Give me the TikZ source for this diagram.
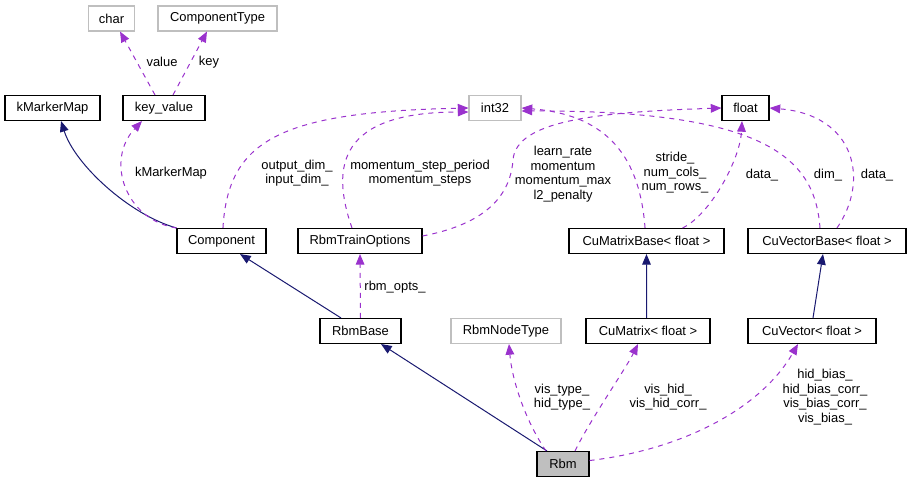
\documentclass[tikz,border=0pt]{standalone}
\usepackage{fontspec}
\setmainfont{Liberation Sans}
\usetikzlibrary{arrows.meta}
\definecolor{inhblue}{HTML}{191970}
\definecolor{usepurple}{HTML}{9A32CD}
\definecolor{extgray}{HTML}{BFBFBF}

\begin{document}
\begin{tikzpicture}[x=0.75pt, y=-0.75pt,
    every node/.style={font=\fontsize{9.7}{10.9}\selectfont, inner sep=0pt},
    cls/.style={draw=black, line width=0.8pt, minimum height=18.75pt},
    ext/.style={cls, draw=extgray},
    cur/.style={cls, fill=extgray},
    lbl/.style={align=center},
    inh/.style={draw=inhblue, line width=0.75pt, -{Triangle[length=8pt,width=6.5pt]}},
    use/.style={draw=usepurple, line width=0.75pt, dash pattern=on 3.75pt off 3.75pt, -{Triangle[length=8pt,width=6.5pt]}}]
    \useasboundingbox (0,0) rectangle (911,483);

    % Top row
    \node[ext, minimum width=34.5pt] (char) at (111.5,18.5) {char};
    \node[ext, minimum width=89.25pt] (ComponentType) at (217.5,18.5) {ComponentType};
    \node[cls, minimum width=71.25pt] (kMarkerMap) at (52.5,108) {kMarkerMap};
    \node[cls, minimum width=61.5pt] (keyValue) at (164,108) {key\_value};
    \node[ext, minimum width=39pt] (int32) at (495,108) {int32};
    \node[cls, minimum width=35.25pt] (float) at (745.5,108) {float};

    % Middle row
    \node[cls, minimum width=66.75pt] (Component) at (221.5,241) {Component};
    \node[cls, minimum width=93pt] (RbmTrainOptions) at (360,241) {RbmTrainOptions};
    \node[cls, minimum width=116.25pt] (CuMatrixBase) at (646.5,241) {CuMatrixBase< float >};
    \node[cls, minimum width=118.5pt] (CuVectorBase) at (827,241) {CuVectorBase< float >};

    \node[cls, minimum width=60.75pt] (RbmBase) at (360.5,331) {RbmBase};
    \node[ext, minimum width=82.5pt] (RbmNodeType) at (506,331) {RbmNodeType};
    \node[cls, minimum width=93pt] (CuMatrix) at (648,331) {CuMatrix< float >};
    \node[cls, minimum width=96pt] (CuVector) at (812,331) {CuVector< float >};

    % Bottom
    \node[cur, minimum width=39pt] (Rbm) at (563,464) {Rbm};

    % Inheritance
    \draw[inh] (Component.north west) .. controls (130,215) and (75,165) .. ([xshift=6.4pt]kMarkerMap.south);
    \draw[inh] ([xshift=-14.6pt]RbmBase.north) -- ([xshift=13.9pt]Component.south);
    \draw[inh] ([xshift=-1.1pt]CuMatrix.north) -- (CuMatrixBase.south);
    \draw[inh] ([xshift=0.75pt]CuVector.north) -- ([xshift=-3pt]CuVectorBase.south);
    \draw[inh] ([xshift=-12pt]Rbm.north) -- ([xshift=15.4pt]RbmBase.south);

    % Usage
    \draw[use] (Component.north west) .. controls (125,220) and (105,160) .. ([xshift=-16.5pt]keyValue.south);
    \draw[use] ([xshift=-6.75pt]keyValue.north) -- ([xshift=6.4pt]char.south);
    \draw[use] ([xshift=6.75pt]keyValue.north) -- ([xshift=-7.9pt]ComponentType.south);
    \draw[use] ([xshift=1.1pt]Component.north) .. controls (228,140) and (280,112) .. (int32.west);
    \draw[use] ([xshift=-6pt]RbmTrainOptions.north) .. controls (330,165) and (340,112) .. ([yshift=-3pt]int32.west);
    \draw[use] ([yshift=3.75pt]RbmTrainOptions.east) .. controls (480,225) and (510,200) .. (513,160)
        .. controls (516,120) and (600,112) .. (float.west);
    \draw[use] ([xshift=-1.1pt]CuMatrixBase.north) .. controls (640,160) and (610,115) .. (int32.east);
    \draw[use] ([xshift=27pt]CuMatrixBase.north) .. controls (710,215) and (740,160) .. ([xshift=-2.6pt]float.south);
    \draw[use] ([xshift=-5.25pt]CuVectorBase.north) .. controls (815,160) and (770,110) .. ([yshift=-2.25pt]int32.east);
    \draw[use] ([xshift=7.5pt]CuVectorBase.north) .. controls (870,180) and (855,115) .. (float.east);
    \draw[use] (RbmBase.north) -- (RbmTrainOptions.south);
    \draw[use] ([xshift=-12.75pt]Rbm.north) .. controls (525,420) and (512,380) .. ([xshift=2.25pt]RbmNodeType.south);
    \draw[use] ([xshift=9pt]Rbm.north) .. controls (590,420) and (625,370) .. ([xshift=-7.5pt]CuMatrix.south);
    \draw[use] ([yshift=2.6pt]Rbm.east) .. controls (680,450) and (760,410) .. ([xshift=-10.5pt]CuVector.south);

    % Labels
    \node[lbl] (lValue) at (162,62) {value};
    \node[lbl] (lKey) at (209,62) {key};
    \node[lbl] (lMarker) at (171,173) {kMarkerMap};
    \node[lbl] (lDim) at (297,173) {output\_dim\_\\input\_dim\_};
    \node[lbl] (lSteps) at (420,173) {momentum\_step\_period\\momentum\_steps};
    \node[lbl] (lRate) at (563,174) {learn\_rate\\momentum\\momentum\_max\\l2\_penalty};
    \node[lbl] (lStride) at (675,173) {stride\_\\num\_cols\_\\num\_rows\_};
    \node[lbl] (lMatData) at (762,175) {data\_};
    \node[lbl] (lVecDim) at (828,175) {dim\_};
    \node[lbl] (lVecData) at (877,175) {data\_};
    \node[lbl] (lOpts) at (395,287) {rbm\_opts\_};
    \node[lbl] (lType) at (562,397) {vis\_type\_\\hid\_type\_};
    \node[lbl] (lHid) at (668,397) {vis\_hid\_\\vis\_hid\_corr\_};
    \node[lbl] (lBias) at (825,397) {hid\_bias\_\\hid\_bias\_corr\_\\vis\_bias\_corr\_\\vis\_bias\_};
\end{tikzpicture}
\end{document}
